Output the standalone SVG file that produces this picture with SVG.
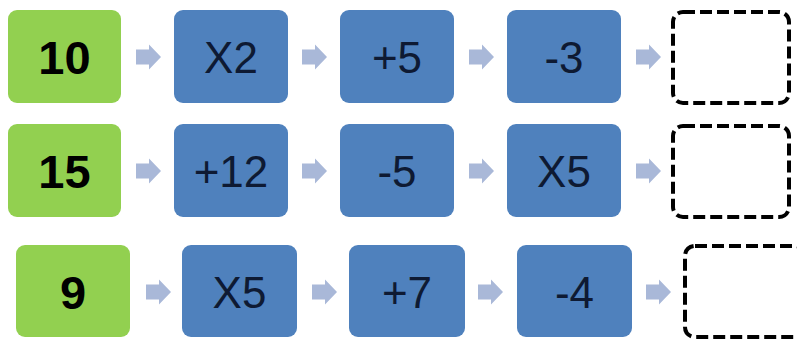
<svg xmlns="http://www.w3.org/2000/svg" width="797" height="341" viewBox="0 0 797 341">
<style>
.g{fill:#92D050}
.b{fill:#4F81BD}
.d{fill:none;stroke:#000;stroke-width:4;stroke-dasharray:12 5;stroke-linecap:butt}
.a{fill:#A9B8D8}
.tg{font-family:"Liberation Sans",Arial,sans-serif;font-weight:bold;font-size:47px;fill:#000;text-anchor:middle;dominant-baseline:central}
.tb{font-family:"Liberation Sans",Arial,sans-serif;font-size:44px;fill:#0E1A33;text-anchor:middle;dominant-baseline:central}
</style>
<defs>
<path id="arr" d="M0,-7.5 H13 V-12.5 L25,0 L13,12.5 V7.5 H0 Z"/>
</defs>
<rect width="797" height="341" fill="#fff"/>
<g id="connectors">
<use href="#arr" class="a" x="136" y="57"/>
<use href="#arr" class="a" x="302" y="57"/>
<use href="#arr" class="a" x="469" y="57"/>
<use href="#arr" class="a" x="636" y="57"/>
<use href="#arr" class="a" x="136" y="171"/>
<use href="#arr" class="a" x="302" y="171"/>
<use href="#arr" class="a" x="469" y="171"/>
<use href="#arr" class="a" x="636" y="171"/>
<use href="#arr" class="a" x="146" y="292"/>
<use href="#arr" class="a" x="312" y="292"/>
<use href="#arr" class="a" x="478" y="292"/>
<use href="#arr" class="a" x="646" y="292"/>
</g>
<g id="r1n1"><rect class="g" x="8" y="10" width="113" height="93" rx="9"/><text class="tg" x="64.5" y="57">10</text></g>
<g id="r1n2"><rect class="b" x="174" y="10" width="114" height="93" rx="9"/><text class="tb" x="231" y="57">X2</text></g>
<g id="r1n3"><rect class="b" x="340" y="10" width="114" height="93" rx="9"/><text class="tb" x="397" y="57">+5</text></g>
<g id="r1n4"><rect class="b" x="507" y="10" width="114" height="93" rx="9"/><text class="tb" x="564" y="57">-3</text></g>
<g id="r1n5"><rect class="d" x="673" y="12" width="116" height="91" rx="10"/></g>
<g id="r2n1"><rect class="g" x="8" y="124" width="113" height="93" rx="9"/><text class="tg" x="64.5" y="171">15</text></g>
<g id="r2n2"><rect class="b" x="174" y="124" width="114" height="93" rx="9"/><text class="tb" x="231" y="171">+12</text></g>
<g id="r2n3"><rect class="b" x="340" y="124" width="114" height="93" rx="9"/><text class="tb" x="397" y="171">-5</text></g>
<g id="r2n4"><rect class="b" x="507" y="124" width="114" height="93" rx="9"/><text class="tb" x="564" y="171">X5</text></g>
<g id="r2n5"><rect class="d" x="673" y="126" width="116" height="91" rx="10"/></g>
<g id="r3n1"><rect class="g" x="16" y="245" width="114" height="92" rx="9"/><text class="tg" x="73" y="292">9</text></g>
<g id="r3n2"><rect class="b" x="182" y="245" width="115" height="92" rx="9"/><text class="tb" x="239.5" y="292">X5</text></g>
<g id="r3n3"><rect class="b" x="349" y="245" width="116" height="92" rx="9"/><text class="tb" x="407" y="292">+7</text></g>
<g id="r3n4"><rect class="b" x="517" y="245" width="115" height="92" rx="9"/><text class="tb" x="574.5" y="292">-4</text></g>
<g id="r3n5"><rect class="d" x="685" y="246" width="120" height="91" rx="10"/></g>
</svg>
